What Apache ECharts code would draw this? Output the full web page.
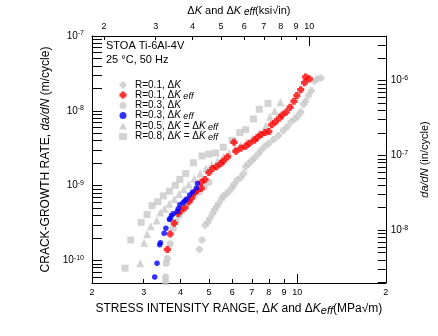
<!DOCTYPE html>
<html>
<head>
<meta charset="utf-8">
<script src="https://cdn.jsdelivr.net/npm/echarts@6/dist/echarts.min.js"></script>
<style>
html,body{margin:0;padding:0;background:#fff;}
#c{width:438px;height:336px;}
</style>
</head>
<body>
<div id="c"></div>
<script>
// ---- Data: ΔK (MPa√m) and da/dN (m/cycle) ----
const r01dK_K = [4.64,4.74,4.85,4.96,5.04,5.15,5.23,5.31,5.39,5.52,5.60,5.73,5.86,6.00,6.09,6.23,6.42,6.57,6.67,6.82,6.98,7.14,7.36,7.53,7.76,8.00,8.31,8.63,8.96,9.24,9.52,9.81,10.04,10.27,10.50,10.67,10.91,11.16,11.42,11.68,12.04];
const r01dK_R = [1.40e-10,1.88e-10,2.96e-10,3.23e-10,3.65e-10,4.24e-10,4.78e-10,5.23e-10,5.72e-10,6.65e-10,7.28e-10,7.72e-10,8.45e-10,9.53e-10,1.04e-9,1.18e-9,1.29e-9,1.45e-9,1.79e-9,1.96e-9,2.14e-9,2.35e-9,2.64e-9,2.98e-9,3.36e-9,3.68e-9,4.15e-9,4.68e-9,5.44e-9,6.13e-9,7.12e-9,7.79e-9,8.53e-9,9.62e-9,1.22e-8,1.34e-8,1.60e-8,1.86e-8,2.51e-8,2.67e-8,2.75e-8];

const r01eff_K = [3.61,3.69,3.81,3.93,4.01,4.14,4.27,4.36,4.46,4.57,4.71,4.71,4.85,5.00,5.15,5.31,5.48,5.60,5.78,6.09,6.18,6.42,6.67,6.87,7.14,7.30,7.53,7.76,8.00,8.18,8.43,8.69,8.89,9.17,9.45,9.74,9.96,10.27,10.58,10.67,10.99];
const r01eff_R = [1.40e-10,2.26e-10,3.14e-10,4.24e-10,4.64e-10,5.07e-10,6.08e-10,6.85e-10,7.96e-10,8.71e-10,9.25e-10,1.11e-9,1.21e-9,1.50e-9,1.69e-9,1.79e-9,1.96e-9,2.14e-9,2.42e-9,3.79e-9,2.89e-9,3.17e-9,3.36e-9,3.68e-9,4.03e-9,4.41e-9,4.82e-9,5.12e-9,5.28e-9,6.51e-9,7.12e-9,8.03e-9,8.79e-9,9.62e-9,1.12e-8,1.34e-8,1.60e-8,1.92e-8,2.37e-8,2.83e-8,2.67e-8];

const r03dK_K = [3.56,3.56,3.58,3.61,3.69,3.78,3.87,3.96,4.08,4.20,4.33,4.46,4.64,4.82,5.00];
const r03dK_R = [5.2e-11,6.0e-11,9.2e-11,1.06e-10,1.67e-10,2.7e-10,3.33e-10,3.99e-10,4.64e-10,5.39e-10,6.26e-10,7.28e-10,8.2e-10,9.53e-10,1.11e-9];

const r03eff_K = [3.27,3.33,3.40,3.42,3.52,3.57,3.67,3.69,3.73,3.78,3.90,3.93,3.98,4.08,4.14,4.20,4.30,4.40,4.53,4.57];
const r03eff_R = [6.0e-11,9.2e-11,1.62e-10,1.72e-10,2.32e-10,2.7e-10,3.54e-10,3.65e-10,3.99e-10,4.2e-10,4.5e-10,4.92e-10,5.55e-10,5.89e-10,6.26e-10,6.65e-10,7.5e-10,8.2e-10,9.25e-10,1.07e-9];

const r05_K = [2.92,3.01,3.08,3.17,3.32,3.42,3.53,3.67,3.81,3.96,4.11,4.27,4.46,4.67,4.89,5.11,5.35,5.60,5.86,6.14,6.42,6.72,7.03,7.42,7.82,8.06,8.37,8.76];
const r05_R = [9.2e-11,1.72e-10,2.26e-10,2.87e-10,3.43e-10,4.37e-10,4.92e-10,5.72e-10,6.65e-10,7.72e-10,8.97e-10,1.04e-9,1.25e-9,1.45e-9,1.69e-9,1.90e-9,2.14e-9,2.42e-9,2.73e-9,3.17e-9,3.47e-9,3.79e-9,4.28e-9,4.97e-9,6.32e-9,8.28e-9,9.91e-9,1.30e-8];

const r08_K = [2.59,2.71,2.94,3.08,3.20,3.35,3.50,3.67,3.84,3.98,4.17,4.43,4.74,5.00,5.27,5.60,6.00,6.37,6.67,7.09,7.42,7.94];
const r08_R = [7.9e-11,1.88e-10,3.23e-10,4.11e-10,5.4e-10,6.1e-10,7.3e-10,8.45e-10,1.01e-9,1.21e-9,1.45e-9,2.02e-9,2.49e-9,2.64e-9,2.73e-9,3.26e-9,4.03e-9,5.12e-9,5.6e-9,7.79e-9,1.05e-8,1.26e-8];

// ---- Axis ticks / labels ----
const bottomMinorTicks = [3,4,5,6,7,8,9];
const bottomMajorTicks = [10];
const bottomLabels = [2,3,4,5,6,7,8,9,10,20];
const topMinorTicks = [2,3,4,5,6,7,8,9];
const topMajorTicks = [10];
const topLabels = [2,3,4,5,6,7,8,9,10];
const leftTicks = [5e-11,6e-11,7e-11,8e-11,9e-11,1e-10,2e-10,3e-10,4e-10,5e-10,6e-10,7e-10,8e-10,9e-10,1e-9,2e-9,3e-9,4e-9,5e-9,6e-9,7e-9,8e-9,9e-9,1e-8,2e-8,3e-8,4e-8,5e-8,6e-8,7e-8,8e-8,9e-8,1e-7];
const leftLabelExps = [-10,-9,-8,-7];
const rightTicks = [2e-9,3e-9,4e-9,5e-9,6e-9,7e-9,8e-9,9e-9,1e-8,2e-8,3e-8,4e-8,5e-8,6e-8,7e-8,8e-8,9e-8,1e-7,2e-7,3e-7,4e-7,5e-7,6e-7,7e-7,8e-7,9e-7,1e-6,2e-6,3e-6];
const rightLabelExps = [-8,-7,-6];

const xMin = 2, xMax = 20;          // MPa√m
const yMin = 5e-11, yMax = 1e-7;    // m/cycle
const KSI = 1.0988;                 // MPa√m per ksi√in
const INCH = 0.0254;                // m per inch

const LG = Math.log10;
const FONT = 'Liberation Sans, Arial, sans-serif';
const GRAY = '#c8c8c8';
const plusPath = 'path://M2,0H6V2H8V6H6V8H2V6H0V2H2Z';

function pts(K, R) { return K.map((k, i) => [LG(k), LG(R[i])]); }

const chart = echarts.init(document.getElementById('c'), null, {renderer: 'canvas'});

function titleRich(fs) {
  return {
    n: {fontFamily: FONT, fontSize: fs, color: '#000', lineHeight: fs + 2},
    i: {fontFamily: FONT, fontSize: fs, fontStyle: 'italic', color: '#000', lineHeight: fs + 2},
    sub: {fontFamily: FONT, fontSize: fs - 1, fontStyle: 'italic', color: '#000', lineHeight: 4, verticalAlign: 'bottom'}
  };
}
const expRich = {
  b: {fontFamily: FONT, fontSize: 10, color: '#000', lineHeight: 12},
  s: {fontFamily: FONT, fontSize: 7, color: '#000', lineHeight: 4, verticalAlign: 'top'}
};
const legRich = {
  n: {fontFamily: FONT, fontSize: 10, color: '#000', lineHeight: 11},
  i: {fontFamily: FONT, fontSize: 10, fontStyle: 'italic', color: '#000', lineHeight: 11},
  sub: {fontFamily: FONT, fontSize: 9, fontStyle: 'italic', color: '#000', lineHeight: 3, verticalAlign: 'bottom'}
};
const legendText = {
  'R=0.1, ΔK': '{n|R=0.1, Δ}{i|K}',
  'R=0.1, ΔKeff': '{n|R=0.1, Δ}{i|K}{sub| eff}',
  'R=0.3, ΔK': '{n|R=0.3, Δ}{i|K}',
  'R=0.3, ΔKeff': '{n|R=0.3, Δ}{i|K}{sub| eff}',
  'R=0.5, ΔK = ΔKeff': '{n|R=0.5, Δ}{i|K}{n| = Δ}{i|K}{sub| eff}',
  'R=0.8, ΔK = ΔKeff': '{n|R=0.8, Δ}{i|K}{n| = Δ}{i|K}{sub| eff}'
};

const axisLine = {show: true, lineStyle: {color: '#000', width: 1}};
const tickLine = {color: '#000', width: 1};

const option = {
  animation: false,
  backgroundColor: '#fff',
  grid: {left: 92, right: 42, top: 30, bottom: 53, containLabel: false},
  legend: {
    orient: 'vertical', left: 114, top: 75, itemGap: 0, itemWidth: 8, itemHeight: 7,
    data: ['R=0.1, ΔK', 'R=0.1, ΔKeff', 'R=0.3, ΔK', 'R=0.3, ΔKeff', 'R=0.5, ΔK = ΔKeff', 'R=0.8, ΔK = ΔKeff'],
    formatter: n => legendText[n],
    textStyle: {rich: legRich, fontSize: 10, padding: [0, 0, 0, 3]},
    selectedMode: false
  },
  xAxis: [
    {
      type: 'value', position: 'bottom', min: LG(xMin), max: LG(xMax),
      axisLine: axisLine,
      axisTick: {show: true, inside: true, length: 4, customValues: bottomMinorTicks.map(LG), lineStyle: tickLine},
      axisLabel: {customValues: bottomLabels.map(LG), formatter: v => { const k = Math.round(Math.pow(10, v)); return k === 20 ? '2' : String(k); }, fontFamily: FONT, fontSize: 9, color: '#000', margin: 5},
      splitLine: {show: false},
      name: '{n|STRESS INTENSITY RANGE, Δ}{i|K}{n| and Δ}{i|K}{sub|eff}{n|(MPa√m)}',
      nameLocation: 'middle', nameGap: 19,
      nameTextStyle: {rich: titleRich(12)}
    },
    {
      type: 'value', position: 'bottom', min: LG(xMin), max: LG(xMax),
      axisLine: {show: false},
      axisTick: {show: true, inside: true, length: 9, customValues: bottomMajorTicks.map(LG), lineStyle: tickLine},
      axisLabel: {show: false}, splitLine: {show: false}
    },
    {
      type: 'value', position: 'top', min: LG(xMin / KSI), max: LG(xMax / KSI),
      axisLine: axisLine,
      axisTick: {show: true, inside: true, length: 4, customValues: topMinorTicks.map(LG), lineStyle: tickLine},
      axisLabel: {customValues: topLabels.map(LG), formatter: v => String(Math.round(Math.pow(10, v))), fontFamily: FONT, fontSize: 9, color: '#000', margin: 5},
      splitLine: {show: false},
      name: '{n|Δ}{i|K}{n| and Δ}{i|K}{sub| eff}{n|(ksi√in)}',
      nameLocation: 'middle', nameGap: 19,
      nameTextStyle: {rich: titleRich(11)}
    },
    {
      type: 'value', position: 'top', min: LG(xMin / KSI), max: LG(xMax / KSI),
      axisLine: {show: false},
      axisTick: {show: true, inside: true, length: 10, customValues: topMajorTicks.map(LG), lineStyle: tickLine},
      axisLabel: {show: false}, splitLine: {show: false}
    }
  ],
  yAxis: [
    {
      type: 'value', position: 'left', min: LG(yMin), max: LG(yMax),
      axisLine: axisLine,
      axisTick: {show: true, inside: true, length: 10, customValues: leftTicks.map(LG), lineStyle: tickLine},
      axisLabel: {customValues: leftLabelExps, formatter: v => '{b|10}{s|' + Math.round(v) + '}', rich: expRich, margin: 8},
      splitLine: {show: false},
      name: '{n|CRACK-GROWTH RATE, }{i|da/dN}{n| (m/cycle)}',
      nameLocation: 'middle', nameGap: 33, nameRotate: 90,
      nameTextStyle: {rich: titleRich(12)}
    },
    {
      type: 'value', position: 'right', min: LG(yMin / INCH), max: LG(yMax / INCH),
      axisLine: axisLine,
      axisTick: {show: true, inside: true, length: 8, customValues: rightTicks.map(LG), lineStyle: tickLine},
      axisLabel: {customValues: rightLabelExps, formatter: v => '{b|10}{s|' + Math.round(v) + '}', rich: expRich, margin: 5},
      splitLine: {show: false},
      name: '{i|da/dN}{n| (in/cycle)}',
      nameLocation: 'middle', nameGap: 31, nameRotate: 90,
      nameTextStyle: {rich: titleRich(11)}
    }
  ],
  graphic: [
    {type: 'text', left: 106, top: 40, style: {text: 'STOA Ti-6Al-4V', font: '11px ' + FONT, fill: '#000'}},
    {type: 'text', left: 106, top: 54, style: {text: '25 °C, 50 Hz', font: '11px ' + FONT, fill: '#000'}}
  ],
  series: [
    {name: 'R=0.8, ΔK = ΔKeff', type: 'scatter', xAxisIndex: 0, yAxisIndex: 0, symbol: 'rect', symbolSize: 7, itemStyle: {color: GRAY}, data: pts(r08_K, r08_R)},
    {name: 'R=0.5, ΔK = ΔKeff', type: 'scatter', xAxisIndex: 0, yAxisIndex: 0, symbol: 'triangle', symbolSize: 8, itemStyle: {color: GRAY}, data: pts(r05_K, r05_R)},
    {name: 'R=0.3, ΔK', type: 'scatter', xAxisIndex: 0, yAxisIndex: 0, symbol: 'circle', symbolSize: 7, itemStyle: {color: GRAY}, data: pts(r03dK_K, r03dK_R)},
    {name: 'R=0.1, ΔK', type: 'scatter', xAxisIndex: 0, yAxisIndex: 0, symbol: plusPath, symbolSize: 7, itemStyle: {color: GRAY}, data: pts(r01dK_K, r01dK_R)},
    {name: 'R=0.1, ΔKeff', type: 'scatter', xAxisIndex: 0, yAxisIndex: 0, symbol: plusPath, symbolSize: 7, itemStyle: {color: '#ff0000'}, data: pts(r01eff_K, r01eff_R)},
    {name: 'R=0.3, ΔKeff', type: 'scatter', xAxisIndex: 0, yAxisIndex: 0, symbol: 'circle', symbolSize: 5.5, itemStyle: {color: '#0000ff'}, data: pts(r03eff_K, r03eff_R)}
  ]
};
chart.setOption(option);
</script>
</body>
</html>
